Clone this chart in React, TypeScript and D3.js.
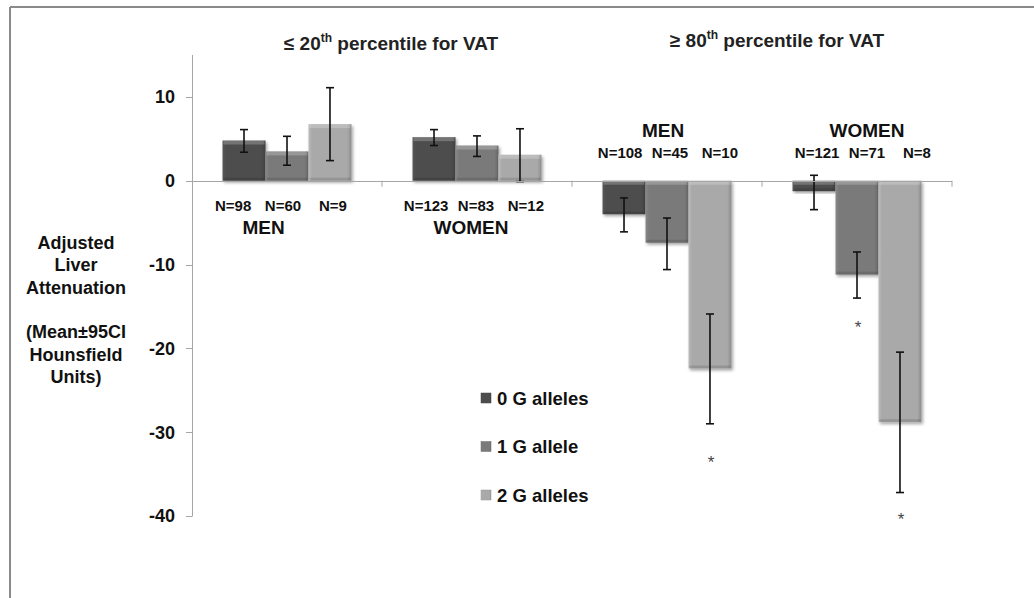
import React, { useEffect, useRef } from 'react';
import * as d3 from 'd3';

const categories = ['low-men', 'low-women', 'high-men', 'high-women'];
const seriesNames = ['0 G alleles', '1 G allele', '2 G alleles'];
const seriesColors = ['#4d4d4d', '#7a7a7a', '#a9a9a9'];

// mean values per category (Hounsfield units)
const allele0 = [4.8, 5.2, -4.0, -1.25];
const allele1 = [3.5, 4.2, -7.4, -11.2];
const allele2 = [6.75, 3.1, -22.4, -28.8];

// 95% CI bounds
const allele0Lo = [3.4, 4.2, -6.1, -3.45];
const allele0Hi = [6.1, 6.1, -2.05, 0.65];
const allele1Lo = [1.85, 2.9, -10.6, -14.0];
const allele1Hi = [5.3, 5.35, -4.45, -8.5];
const allele2Lo = [2.4, -0.1, -29.0, -37.2];
const allele2Hi = [11.1, 6.2, -15.9, -20.45];

const nLabels = [
  ['N=98', 'N=60', 'N=9'],
  ['N=123', 'N=83', 'N=12'],
  ['N=108', 'N=45', 'N=10'],
  ['N=121', 'N=71', 'N=8'],
];
const groupLabels = ['MEN', 'WOMEN', 'MEN', 'WOMEN'];

// significance stars: [category, series, y value]
const stars = [
  [2, 2, -33.4],
  [3, 1, -17.3],
  [3, 2, -40.2],
];

const yTicks = [10, 0, -10, -20, -30, -40];
const yTitle = ['Adjusted', 'Liver', 'Attenuation', '', '(Mean±95CI', 'Hounsfield', 'Units)'];

const W = 1034;
const H = 598;
const FONT = 'Liberation Sans, Arial, sans-serif';

export default function App() {
  const ref = useRef<SVGSVGElement | null>(null);

  useEffect(() => {
    const svg = d3.select(ref.current);
    svg.selectAll('*').remove();

    const means = [allele0, allele1, allele2];
    const lows = [allele0Lo, allele1Lo, allele2Lo];
    const highs = [allele0Hi, allele1Hi, allele2Hi];

    const y = d3.scaleLinear().domain([-40, 15]).range([516, 55]);
    const x0 = d3.scaleBand().domain(categories).range([192, 952]).padding(0);
    const x1 = d3.scaleBand()
      .domain(seriesNames)
      .range([0, x0.bandwidth()])
      .paddingInner(0)
      .paddingOuter(0.71);

    const defs = svg.append('defs');
    seriesColors.forEach((c, i) => {
      const g = defs.append('linearGradient')
        .attr('id', 'grad' + i)
        .attr('x1', 0).attr('x2', 1).attr('y1', 0).attr('y2', 0);
      g.append('stop').attr('offset', '0%').attr('stop-color', d3.color(c)!.brighter(0.3).toString());
      g.append('stop').attr('offset', '8%').attr('stop-color', c);
      g.append('stop').attr('offset', '90%').attr('stop-color', c);
      g.append('stop').attr('offset', '100%').attr('stop-color', d3.color(c)!.darker(0.5).toString());
    });
    const f = defs.append('filter').attr('id', 'shadow')
      .attr('x', '-20%').attr('y', '-20%').attr('width', '140%').attr('height', '140%');
    f.append('feDropShadow')
      .attr('dx', 1.5).attr('dy', 2).attr('stdDeviation', 1.5)
      .attr('flood-color', '#000').attr('flood-opacity', 0.35);

    // outer frame (top and left edges only)
    svg.append('line').attr('x1', 10).attr('x2', W).attr('y1', 7).attr('y2', 7)
      .attr('stroke', '#8a8a8a').attr('stroke-width', 2);
    svg.append('line').attr('x1', 10).attr('x2', 10).attr('y1', 7).attr('y2', H)
      .attr('stroke', '#8a8a8a').attr('stroke-width', 2);

    // y axis
    svg.append('line').attr('x1', 192.5).attr('x2', 192.5).attr('y1', 55).attr('y2', y(-40))
      .attr('stroke', '#a6a6a6');
    svg.append('g').selectAll('line').data(yTicks).join('line')
      .attr('x1', 186).attr('x2', 192.5)
      .attr('y1', d => Math.round(y(d)) + 0.5).attr('y2', d => Math.round(y(d)) + 0.5)
      .attr('stroke', '#a6a6a6');
    svg.append('g').selectAll('text').data(yTicks).join('text')
      .attr('x', 175).attr('y', d => y(d)).attr('dy', '0.36em')
      .attr('text-anchor', 'end')
      .attr('font-family', FONT).attr('font-weight', 'bold').attr('font-size', 18)
      .attr('fill', '#111')
      .text(d => d);

    // y title
    svg.append('g').selectAll('text').data(yTitle).join('text')
      .attr('x', 76).attr('y', (d, i) => 249 + i * 22.3)
      .attr('text-anchor', 'middle')
      .attr('font-family', FONT).attr('font-weight', 'bold').attr('font-size', 18)
      .attr('fill', '#111')
      .text(d => d);

    // bars
    const cats = svg.append('g').selectAll('g').data(categories).join('g')
      .attr('transform', c => `translate(${x0(c)},0)`);

    cats.each(function (c, ci) {
      const g = d3.select(this);
      seriesNames.forEach((s, si) => {
        const v = means[si][ci];
        const bx = x1(s)!;
        const bw = x1.bandwidth();
        const top = Math.min(y(v), y(0));
        const h = Math.abs(y(v) - y(0));
        g.append('rect')
          .attr('x', bx).attr('width', bw)
          .attr('y', top).attr('height', h)
          .attr('fill', `url(#grad${si})`)
          .attr('filter', 'url(#shadow)');
        // bevel: light top, darker bottom edge
        g.append('rect')
          .attr('x', bx + 1).attr('width', bw - 2)
          .attr('y', top).attr('height', Math.min(4, h))
          .attr('fill', '#fff').attr('opacity', 0.22);
        g.append('rect')
          .attr('x', bx + 1).attr('width', bw - 2)
          .attr('y', top + h - Math.min(3, h)).attr('height', Math.min(3, h))
          .attr('fill', '#000').attr('opacity', 0.12);
      });
    });

    // zero line with category ticks
    svg.append('line').attr('x1', 192).attr('x2', 952)
      .attr('y1', Math.round(y(0)) + 0.5).attr('y2', Math.round(y(0)) + 0.5)
      .attr('stroke', '#a6a6a6');
    const bounds = categories.map(c => x0(c)!).concat([952]);
    svg.append('g').selectAll('line').data(bounds.slice(1)).join('line')
      .attr('x1', d => d).attr('x2', d => d)
      .attr('y1', y(0)).attr('y2', y(0) + 6)
      .attr('stroke', '#a6a6a6');

    // error bars
    cats.each(function (c, ci) {
      const g = d3.select(this);
      seriesNames.forEach((s, si) => {
        const cx = x1(s)! + x1.bandwidth() / 2;
        const lo = y(lows[si][ci]);
        const hi = y(highs[si][ci]);
        g.append('line').attr('x1', cx).attr('x2', cx).attr('y1', lo).attr('y2', hi)
          .attr('stroke', '#111').attr('stroke-width', 1.6);
        [lo, hi].forEach(yy => {
          g.append('line').attr('x1', cx - 4).attr('x2', cx + 4).attr('y1', yy).attr('y2', yy)
            .attr('stroke', '#111').attr('stroke-width', 1.6);
        });
      });
    });

    // N labels and group labels
    const labelShift = [-4, -1, 3, 10];
    cats.each(function (c, ci) {
      const g = d3.select(this);
      const below = allele0[ci] > 0;
      const nY = below ? 211 : 158;
      const mid = x1(seriesNames[1])! + x1.bandwidth() / 2;
      seriesNames.forEach((s, si) => {
        const cx = x1(s)! + x1.bandwidth() / 2;
        g.append('text')
          .attr('x', mid + (cx - mid) * 1.16 + labelShift[ci])
          .attr('y', nY)
          .attr('text-anchor', 'middle')
          .attr('font-family', FONT).attr('font-weight', 'bold').attr('font-size', 15)
          .attr('fill', '#111')
          .text(nLabels[ci][si]);
      });
      const gx = ci === 0 ? x1(seriesNames[1])! - 2 : x0.bandwidth() / 2 + (ci === 3 ? 10 : ci === 1 ? -6 : -4);
      g.append('text')
        .attr('x', gx).attr('y', below ? 234 : 137)
        .attr('text-anchor', 'middle')
        .attr('font-family', FONT).attr('font-weight', 'bold').attr('font-size', 19)
        .attr('fill', '#111')
        .text(groupLabels[ci]);
    });

    // significance stars
    svg.append('g').selectAll('text').data(stars).join('text')
      .attr('x', d => x0(categories[d[0]])! + x1(seriesNames[d[1]])! + x1.bandwidth() / 2 + 1)
      .attr('y', d => y(d[2]) + 7)
      .attr('text-anchor', 'middle')
      .attr('font-family', FONT).attr('font-size', 17).attr('fill', '#444')
      .text('*');

    // panel titles
    const titles = [
      { x: 391, y: 50, pre: '≤ 20', sup: 'th' },
      { x: 777, y: 47, pre: '≥ 80', sup: 'th' },
    ];
    titles.forEach(t => {
      const txt = svg.append('text')
        .attr('x', t.x).attr('y', t.y)
        .attr('text-anchor', 'middle')
        .attr('font-family', FONT).attr('font-weight', 'bold').attr('font-size', 19)
        .attr('fill', '#222');
      txt.append('tspan').text(t.pre);
      txt.append('tspan').attr('dy', -8).attr('font-size', 12).text(t.sup);
      txt.append('tspan').attr('dy', 8).text(' percentile for VAT');
    });

    // legend
    const leg = svg.append('g').selectAll('g').data(seriesNames).join('g')
      .attr('transform', (d, i) => `translate(481,${398 + i * 48.5})`);
    leg.append('rect')
      .attr('x', 0).attr('y', -5).attr('width', 10).attr('height', 10)
      .attr('fill', (d, i) => `url(#grad${i})`)
      .attr('stroke', (d, i) => d3.color(seriesColors[i])!.darker(0.3).toString())
      .attr('stroke-width', 0.5);
    leg.append('text')
      .attr('x', 16).attr('y', 0).attr('dy', '0.36em')
      .attr('font-family', FONT).attr('font-weight', 'bold').attr('font-size', 18.5)
      .attr('fill', '#111')
      .text(d => d);
  }, []);

  return (
    <svg
      ref={ref}
      width={W}
      height={H}
      style={{ position: 'absolute', left: 0, top: 0, background: '#fff' }}
    />
  );
}
